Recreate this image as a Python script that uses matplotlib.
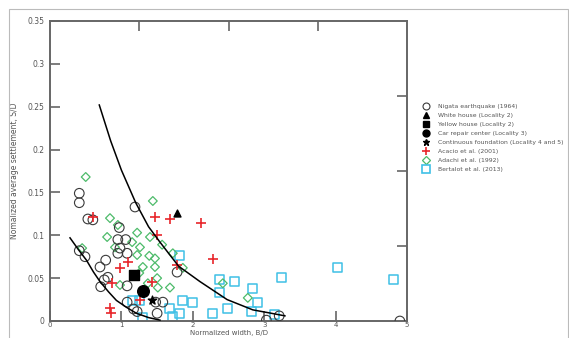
import matplotlib
matplotlib.use("Agg")
import matplotlib.pyplot as plt
from matplotlib.lines import Line2D
from matplotlib.patches import Rectangle

# Nigata earthquake (1964)
nig_x = [0.41, 0.41, 0.53, 0.60, 1.19, 0.97, 0.95, 1.06, 0.98, 0.95, 1.08, 0.41, 0.49,
         0.78, 0.70, 0.81, 0.76, 0.71, 1.08, 1.08, 1.17, 1.22, 1.48, 1.58, 1.50, 1.78,
         3.03, 3.21, 4.90]
nig_y = [0.149, 0.138, 0.119, 0.118, 0.133, 0.109, 0.095, 0.095, 0.085, 0.079, 0.079, 0.082, 0.075,
         0.071, 0.063, 0.051, 0.048, 0.040, 0.041, 0.022, 0.014, 0.011, 0.022, 0.022, 0.009, 0.057,
         0.001, 0.006, 0.0]

# single case histories
white_x, white_y = [1.78], [0.126]
yellow_x, yellow_y = [1.18], [0.054]
car_x, car_y = [1.30], [0.035]
cont_x, cont_y = [1.43], [0.024]

# Acacio et al. (2001)
aca_x = [0.60, 1.47, 1.68, 2.11, 1.50, 2.28, 1.09, 0.98, 1.78, 0.87, 1.43, 1.26, 0.84, 0.85]
aca_y = [0.121, 0.121, 0.119, 0.114, 0.100, 0.072, 0.069, 0.062, 0.065, 0.044, 0.046, 0.024, 0.015, 0.009]

# Adachi et al. (1992)
ada_x = [0.50, 1.44, 0.84, 0.95, 1.22, 0.80, 1.40, 0.91, 1.15, 1.26, 1.57, 1.39, 1.47, 1.22,
         1.72, 1.47, 1.30, 1.50, 1.37, 0.98, 1.51, 1.68, 1.25, 1.86, 2.42, 2.77, 0.45]
ada_y = [0.168, 0.140, 0.120, 0.112, 0.103, 0.098, 0.098, 0.086, 0.092, 0.086, 0.089, 0.076, 0.073, 0.077,
         0.079, 0.063, 0.063, 0.050, 0.044, 0.042, 0.039, 0.039, 0.056, 0.062, 0.044, 0.027, 0.085]

# Bertalot et al. (2013)
ber_x = [1.82, 1.26, 1.15, 1.85, 2.00, 1.68, 1.82, 1.71, 1.29, 2.38, 2.58, 2.37, 2.83, 2.90,
         2.82, 2.48, 2.28, 3.24, 4.02, 4.81, 3.14]
ber_y = [0.076, 0.024, 0.024, 0.024, 0.022, 0.015, 0.009, 0.005, 0.004, 0.048, 0.046, 0.033, 0.038, 0.021,
         0.011, 0.014, 0.009, 0.051, 0.062, 0.048, 0.008]

# bounding curves
up_x = [0.69, 0.85, 1.00, 1.20, 1.38, 1.54, 1.80, 2.10, 2.48, 2.84, 3.10, 3.29]
up_y = [0.252, 0.210, 0.176, 0.138, 0.110, 0.092, 0.064, 0.046, 0.025, 0.013, 0.009, 0.006]
lo_x = [0.28, 0.40, 0.51, 0.61, 0.70, 0.82, 0.93, 1.07, 1.21, 1.38, 1.54]
lo_y = [0.097, 0.083, 0.071, 0.057, 0.046, 0.034, 0.024, 0.016, 0.009, 0.004, 0.001]

labels = ['Nigata earthquake (1964)', 'White house (Locality 2)', 'Yellow house (Locality 2)',
          'Car repair center (Locality 3)', 'Continuous foundation (Locality 4 and 5)',
          'Acacio et al. (2001)', 'Adachi et al. (1992)', 'Bertalot et al. (2013)']

red = '#e8262b'
green = '#4dbb6a'
cyan = '#3fc0e6'
dark = '#3a3a3a'
gray = '#666666'
txt = '#555555'

fig = plt.figure(figsize=(5.69, 3.38), dpi=100)
ax = fig.add_axes([0.0879, 0.0503, 0.6274, 0.8876])

ax.plot(up_x, up_y, color='black', lw=1.1, zorder=4)
ax.plot(lo_x, lo_y, color='black', lw=1.1, zorder=4)

ax.scatter(ber_x, ber_y, marker='s', s=42, facecolors='none', edgecolors=cyan, linewidths=1.1, zorder=2)
ax.scatter(ada_x, ada_y, marker='D', s=20, facecolors='none', edgecolors=green, linewidths=0.9, zorder=2)
ax.scatter(nig_x, nig_y, marker='o', s=48, facecolors='none', edgecolors=dark, linewidths=0.8, zorder=3)
ax.scatter(aca_x, aca_y, marker='+', s=55, color=red, linewidths=1.2, zorder=3)
ax.scatter(white_x, white_y, marker='^', s=25, color='black', zorder=5)
ax.scatter(yellow_x, yellow_y, marker='s', s=55, color='black', zorder=5)
ax.scatter(car_x, car_y, marker='o', s=70, color='black', zorder=5)
ax.scatter(cont_x, cont_y, marker='*', s=40, color='black', zorder=5)

ax.set_xlim(0, 5)
ax.set_ylim(0, 0.35)
ax.set_xticks([0, 1, 2, 3, 4, 5])
ax.set_xticklabels(['0', '1', '2', '3', '4', '5'])
ax.set_yticks([0, 0.05, 0.1, 0.15, 0.2, 0.25, 0.3, 0.35])
ax.set_yticklabels(['0', '0.05', '0.1', '0.15', '0.2', '0.25', '0.3', '0.35'])
ax.tick_params(direction='in', length=7, width=1.2, color=gray, labelsize=5.5,
               labelcolor=txt, pad=4)
ax.tick_params(axis='x', pad=1, labelsize=5)
for s in ax.spines.values():
    s.set_color(gray)
    s.set_linewidth(1.4)

ax.set_xlabel('Normalized width, B/D', fontsize=5, color=txt)
ax.xaxis.set_label_coords(0.5, -0.031)
ax.set_ylabel('Nomalized average settlement, S/D', fontsize=5.5, color=txt, labelpad=6)

# the top and right frame carry their own tick marks
top = ax.twiny()
top.set_xlim(0, 4)
top.set_xticks([1, 2, 3])
top.tick_params(direction='in', length=7, width=1.2, color=gray, labeltop=False)
right = ax.twinx()
right.set_ylim(0, 4)
right.set_yticks([1, 2, 3])
right.tick_params(direction='in', length=7, width=1.2, color=gray, labelright=False)
for a in (top, right):
    for s in a.spines.values():
        s.set_visible(False)

handles = [
    Line2D([], [], ls='', marker='o', mfc='none', mec=dark, ms=5, mew=0.8),
    Line2D([], [], ls='', marker='^', color='black', ms=4),
    Line2D([], [], ls='', marker='s', color='black', ms=5),
    Line2D([], [], ls='', marker='o', color='black', ms=5),
    Line2D([], [], ls='', marker='*', color='black', ms=5),
    Line2D([], [], ls='', marker='+', color=red, ms=6, mew=1.2),
    Line2D([], [], ls='', marker='D', mfc='none', mec=green, ms=4, mew=0.9),
    Line2D([], [], ls='', marker='s', mfc='none', mec=cyan, ms=6, mew=1.2),
]
leg = fig.legend(handles, labels, loc='upper left', bbox_to_anchor=(0.738, 0.703),
                 frameon=False, fontsize=4.4, labelspacing=0.62, handlelength=1.0,
                 handletextpad=1.5, borderpad=0)
for t in leg.get_texts():
    t.set_color(txt)

fig.patches.append(Rectangle((0.016, -0.01), 0.982, 0.984, transform=fig.transFigure,
                             fill=False, edgecolor='#bbbbbb', lw=0.8))

fig.savefig('out.png', dpi=100)
